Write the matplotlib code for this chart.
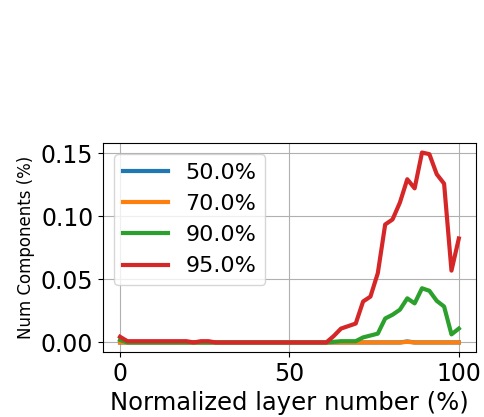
import numpy as np
import matplotlib
matplotlib.use("Agg")
import matplotlib.pyplot as plt

# normalized layer position (%), 47 layers
layers = np.linspace(0, 100, 47)

p50 = [0.0] * 47
p50[39] = 0.0008

p70 = [0.0] * 47
p70[39] = 0.0005

p90 = [0.002, 0, 0, 0, 0, 0, 0, 0, 0, 0,
       0, 0, 0, 0, 0, 0, 0, 0, 0, 0,
       0, 0, 0, 0, 0, 0, 0, 0, 0, 0.0005,
       0.001, 0.001, 0.001, 0.004, 0.0055, 0.007, 0.019, 0.022, 0.026, 0.035,
       0.031, 0.043, 0.041, 0.033, 0.0285, 0.0064, 0.011]

p95 = [0.0045, 0.001, 0.001, 0.001, 0.001, 0.001, 0.001, 0.001, 0.001, 0.001,
       0.0, 0.001, 0.001, 0, 0, 0, 0, 0, 0, 0,
       0, 0, 0, 0, 0, 0, 0, 0, 0, 0.005,
       0.011, 0.013, 0.015, 0.0325, 0.0364, 0.055, 0.0936, 0.0976, 0.111, 0.1295,
       0.1223, 0.1507, 0.1494, 0.1335, 0.126, 0.057, 0.0825]

series = {"50.0%": p50, "70.0%": p70, "90.0%": p90, "95.0%": p95}

fig = plt.figure(figsize=(4.84, 4.17), dpi=100)
ax = fig.add_axes([0.213, 0.156, 0.77, 0.501])
for name, vals in series.items():
    ax.plot(layers, vals, lw=3, label=name)

ax.set_xlabel("Normalized layer number (%)", fontsize=17.5)
ax.set_ylabel("Num Components (%)", fontsize=12)
ax.tick_params(labelsize=17)
ax.set_xticks([0, 50, 100])
ax.set_yticks([0.0, 0.05, 0.10, 0.15])
ax.grid(True)
ax.legend(loc="upper left", fontsize=16)

fig.savefig("out.png", dpi=100)
